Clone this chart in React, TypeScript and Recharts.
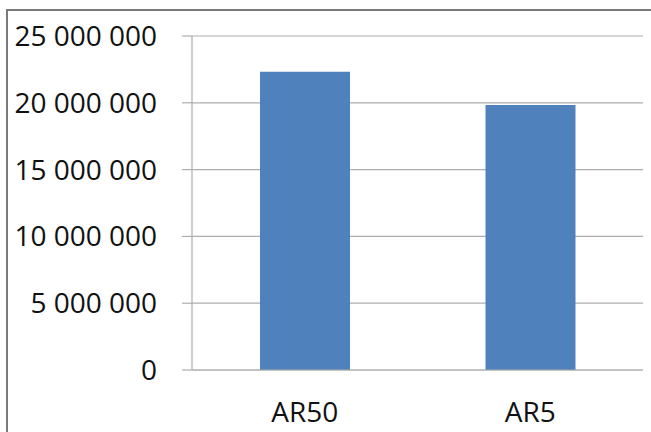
import React from "react";
import { BarChart, Bar, XAxis, YAxis, CartesianGrid } from "recharts";

const categories = ["AR50", "AR5"];
const values = [22320000, 19840000];
const yTicks = [0, 5000000, 10000000, 15000000, 20000000, 25000000];
const boundaryTicks = [0, 1, 2];

const data = categories.map((name, i) => ({ name, value: values[i] }));

const fmt = (v: number) => String(v).replace(/\B(?=(\d{3})+(?!\d))/g, " ");

const FONT = "'Open Sans', sans-serif";
const GRID = "#ADADAD";

export default function App() {
  return (
    <div
      style={{
        position: "fixed",
        left: 0,
        top: 0,
        width: 700,
        height: 460,
        background: "#fff",
        overflow: "hidden",
      }}
    >
      <div style={{ position: "absolute", left: 0, top: 0 }}>
        <BarChart
          width={651}
          height={432}
          data={data}
          margin={{ top: 36, right: 8, bottom: 0, left: 0 }}
          barSize={90}
        >
          <CartesianGrid vertical={false} stroke={GRID} strokeWidth={1.2} />
          <XAxis
            xAxisId="bound"
            type="number"
            domain={[0, 2]}
            ticks={boundaryTicks}
            height={0}
            axisLine={false}
            tickLine={{ stroke: GRID, strokeWidth: 1.2 }}
            tickSize={9}
            tick={false}
            orientation="bottom"
          />
          <XAxis
            dataKey="name"
            xAxisId="cat"
            height={62}
            tickLine={false}
            axisLine={{ stroke: GRID, strokeWidth: 1.2 }}
            tickSize={0}
            tickMargin={32}
            tick={{ fill: "#111", fontSize: 28, fontFamily: FONT }}
          />
          <YAxis
            width={192}
            domain={[0, 25000000]}
            ticks={yTicks}
            interval={0}
            tickFormatter={fmt}
            tickSize={10}
            tickMargin={25}
            axisLine={{ stroke: GRID, strokeWidth: 1.2 }}
            tickLine={{ stroke: GRID, strokeWidth: 1.2 }}
            tick={{ fill: "#111", fontSize: 28, fontFamily: FONT }}
          />
          <Bar dataKey="value" xAxisId="cat" fill="#4F81BD" isAnimationActive={false} />
        </BarChart>
      </div>
      <svg
        width={700}
        height={460}
        style={{ position: "absolute", left: 0, top: 0, zIndex: 2, pointerEvents: "none" }}
      >
        <rect x={6} y={9} width={2} height={451} fill="#7a7a7a" />
        <rect x={6} y={9} width={694} height={2} fill="#7a7a7a" />
      </svg>
    </div>
  );
}
